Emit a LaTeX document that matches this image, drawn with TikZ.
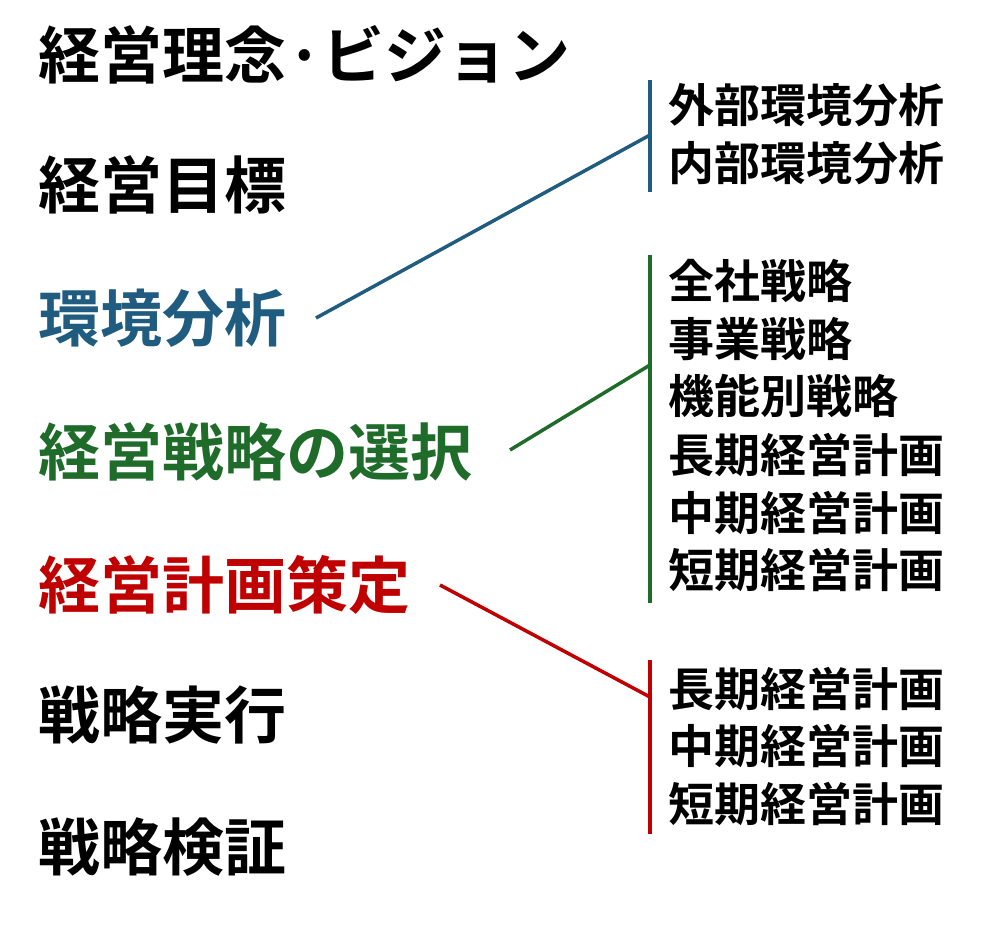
\documentclass[tikz,border=0pt]{standalone}
\usepackage{fontspec}
\newfontfamily\cjk{Noto Sans CJK JP}[BoldFont={Noto Sans CJK JP Bold}]
\definecolor{cblue}{HTML}{1F5C80}
\definecolor{cgreen}{HTML}{1E6B2A}
\definecolor{cred}{HTML}{C00000}
\begin{document}
\begin{tikzpicture}[x=1pt,y=-1pt,
  big/.style={anchor=west,inner sep=0pt,font=\cjk\bfseries\fontsize{62}{62}\selectfont},
  small/.style={anchor=west,inner sep=0pt,font=\cjk\bfseries\fontsize{46}{46}\selectfont},
  bar/.style={line width=3.5pt},
  link/.style={line width=3.5pt}]
\useasboundingbox (0,0) rectangle (987,927);
\node[big] (a) at (38,55) {経営理念·ビジョン};
\node[big] (b) at (38,185) {経営目標};
\node[big,text=cblue] (c) at (38,318) {環境分析};
\node[big,text=cgreen] (d) at (38,452) {経営戦略の選択};
\node[big,text=cred] (e) at (38,585) {経営計画策定};
\node[big] (f) at (38,715) {戦略実行};
\node[big] (g) at (38,847) {戦略検証};
% blue group
\coordinate (b1) at (650,80); \coordinate (b2) at (650,192);
\draw[bar,cblue] (b1) -- (b2);
\coordinate (bm) at (650,135);
\coordinate (cs) at (316,318);
\draw[link,cblue] (cs) -- (bm);
\node[small] (r1) at (668,105) {外部環境分析};
\node[small] (r2) at (668,163) {内部環境分析};
% green group
\coordinate (g1) at (650,255); \coordinate (g2) at (650,603);
\draw[bar,cgreen] (g1) -- (g2);
\coordinate (gm) at (650,365);
\coordinate (ds) at (510,450);
\draw[link,cgreen] (ds) -- (gm);
\node[small] (s1) at (668,281) {全社戦略};
\node[small] (s2) at (668,339) {事業戦略};
\node[small] (s3) at (668,396) {機能別戦略};
\node[small] (s4) at (668,455) {長期経営計画};
\node[small] (s5) at (668,513) {中期経営計画};
\node[small] (s6) at (668,570) {短期経営計画};
% red group
\coordinate (q1) at (650,660); \coordinate (q2) at (650,834);
\draw[bar,cred] (q1) -- (q2);
\coordinate (qm) at (650,697);
\coordinate (es) at (440,585);
\draw[link,cred] (es) -- (qm);
\node[small] (t1) at (668,689) {長期経営計画};
\node[small] (t2) at (668,746) {中期経営計画};
\node[small] (t3) at (668,804) {短期経営計画};
\end{tikzpicture}
\end{document}
